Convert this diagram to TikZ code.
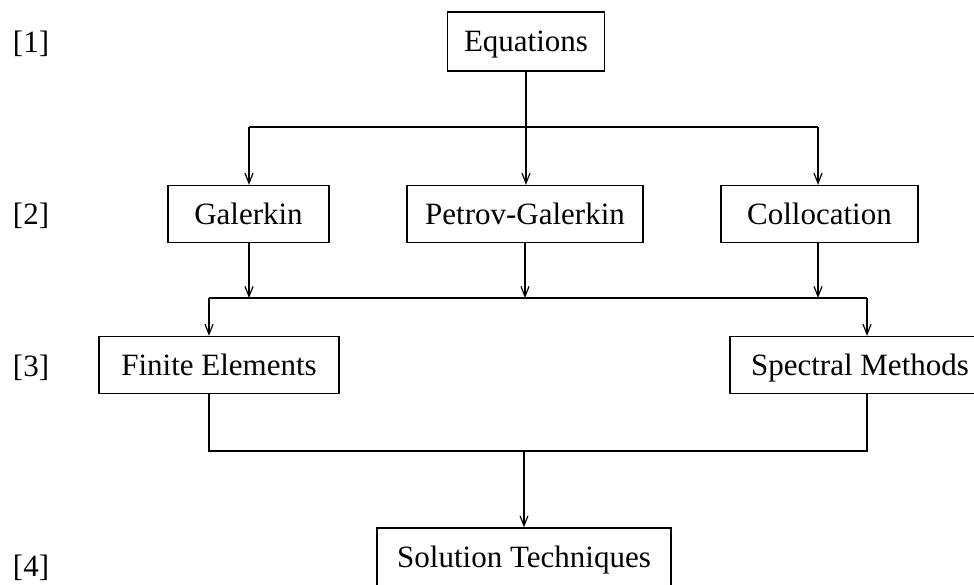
\documentclass[tikz,border=0pt]{standalone}
\usepackage{fontspec}
\setmainfont{Liberation Serif}
\usetikzlibrary{arrows.meta}
\begin{document}
\begin{tikzpicture}[x=1pt,y=-1pt,
  box/.style={draw, line width=1.3pt, inner sep=0pt, minimum height=57pt, text height=20.5pt, text depth=0pt, font=\fontsize{31}{37}\selectfont},
  conn/.style={line width=1.2pt},
  arr/.style={conn, -{Straight Barb[length=10pt,width=8pt,line width=1.2pt]}},
  lbl/.style={font=\fontsize{31}{37}\selectfont}]
\useasboundingbox (0,0) rectangle (974,585);
\clip (0,0) rectangle (974,585);
% nodes
\node[box, minimum width=157pt, minimum height=59pt] (eq) at (526,41.5) {Equations};
\node[box, minimum width=161pt] (gal) at (248.5,214) {Galerkin};
\node[box, minimum width=236pt] (pg) at (525,214) {Petrov-Galerkin};
\node[box, minimum width=197pt] (col) at (819.5,214) {Collocation};
\node[box, minimum width=240pt] (fe) at (219,365) {Finite Elements};
\node[box, minimum width=260pt] (sm) at (860,365) {Spectral Methods};
\node[box, minimum width=294pt, minimum height=58pt] (st) at (524,557) {Solution Techniques};
% level labels
\node[lbl] (l1) at (31,44) {[1]};
\node[lbl] (l2) at (31,216) {[2]};
\node[lbl] (l3) at (31,368) {[3]};
\node[lbl] (l4) at (31,568) {[4]};
% level 1 -> 2
\coordinate (a1) at (249,127);
\coordinate (a3) at (818,127);
\draw[conn] (eq.south) -- (eq.south |- a1);
\draw[conn] (a1) -- (a3);
\draw[arr] (a1) -- (gal.north -| a1);
\draw[arr] (eq.south |- a1) -- (pg.north -| eq.south);
\draw[arr] (a3) -- (col.north -| a3);
% level 2 -> 3
\coordinate (g1) at (249,298);
\coordinate (p1) at (525,298);
\coordinate (c1) at (818,298);
\coordinate (b1) at (209,298);
\coordinate (b2) at (867,298);
\draw[arr] (gal.south -| g1) -- (g1);
\draw[arr] (pg.south) -- (p1);
\draw[arr] (col.south -| c1) -- (c1);
\draw[conn] (b1) -- (b2);
\draw[arr] (b1) -- (fe.north -| b1);
\draw[arr] (b2) -- (sm.north -| b2);
% level 3 -> 4
\coordinate (d1) at (209,451);
\coordinate (d2) at (867,451);
\coordinate (d0) at (524,451);
\draw[conn] (fe.south -| d1) -- (d1) -- (d2) -- (sm.south -| d2);
\draw[arr] (d0) -- (st.north);
\end{tikzpicture}
\end{document}
